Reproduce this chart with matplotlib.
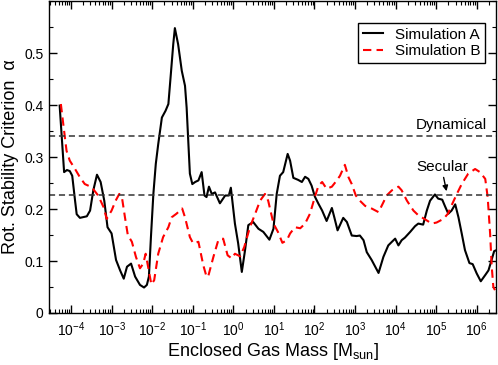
import numpy as np
import matplotlib
matplotlib.use('Agg')
import matplotlib.pyplot as plt
from matplotlib.ticker import LogLocator, FixedLocator, MultipleLocator, LogFormatterSciNotation

plt.rcParams['font.family'] = ['Liberation Sans', 'DejaVu Sans']
plt.rcParams['mathtext.default'] = 'regular'

# Simulation A: log10(enclosed gas mass / Msun) and alpha
logm_a = [-4.28, -4.17, -4.10, -4.03, -3.97, -3.90, -3.86, -3.78, -3.61, -3.53,
          -3.45, -3.36, -3.27, -3.18, -3.10, -3.00, -2.89, -2.79, -2.70, -2.62,
          -2.52, -2.42, -2.30, -2.20, -2.13, -2.08, -2.03, -1.97, -1.91, -1.85,
          -1.76, -1.67, -1.60, -1.54, -1.48, -1.44, -1.36, -1.27, -1.19, -1.15,
          -1.11, -1.07, -1.01, -0.94, -0.86, -0.78, -0.71, -0.66, -0.60, -0.53,
          -0.45, -0.33, -0.20, -0.11, -0.06, 0.04, 0.12, 0.21, 0.29, 0.37,
          0.49, 0.62, 0.74, 0.89, 0.99, 1.07, 1.15, 1.23, 1.34, 1.40,
          1.48, 1.60, 1.69, 1.77, 1.85, 1.93, 2.01, 2.10, 2.19, 2.30,
          2.43, 2.49, 2.57, 2.71, 2.80, 2.92, 3.04, 3.12, 3.21, 3.29,
          3.41, 3.58, 3.70, 3.82, 3.91, 3.99, 4.07, 4.15, 4.23, 4.36,
          4.48, 4.56, 4.68, 4.77, 4.85, 4.97, 5.05, 5.15, 5.22, 5.30,
          5.38, 5.47, 5.55, 5.63, 5.71, 5.82, 5.90, 6.00, 6.10, 6.21,
          6.29, 6.37, 6.43, 6.46]
alpha_a = [0.399, 0.271, 0.275, 0.273, 0.264, 0.216, 0.190, 0.183, 0.186, 0.197,
           0.236, 0.266, 0.252, 0.216, 0.165, 0.153, 0.102, 0.082, 0.066, 0.089,
           0.095, 0.070, 0.054, 0.049, 0.054, 0.070, 0.146, 0.229, 0.287, 0.325,
           0.376, 0.389, 0.402, 0.459, 0.517, 0.548, 0.517, 0.466, 0.437, 0.395,
           0.331, 0.268, 0.248, 0.252, 0.255, 0.271, 0.226, 0.223, 0.243, 0.229,
           0.232, 0.211, 0.226, 0.226, 0.241, 0.172, 0.134, 0.079, 0.121, 0.169,
           0.175, 0.162, 0.156, 0.141, 0.162, 0.229, 0.264, 0.271, 0.306, 0.293,
           0.260, 0.256, 0.252, 0.262, 0.258, 0.245, 0.224, 0.210, 0.197, 0.177,
           0.202, 0.184, 0.159, 0.183, 0.175, 0.149, 0.148, 0.149, 0.140, 0.117,
           0.102, 0.077, 0.108, 0.130, 0.137, 0.143, 0.130, 0.140, 0.145, 0.156,
           0.167, 0.172, 0.170, 0.197, 0.216, 0.228, 0.220, 0.218, 0.205, 0.191,
           0.197, 0.209, 0.184, 0.153, 0.121, 0.096, 0.094, 0.076, 0.061, 0.073,
           0.082, 0.103, 0.119, 0.120]

# Simulation B
logm_b = [-4.25, -4.19, -4.11, -4.03, -3.90, -3.78, -3.66, -3.49, -3.33, -3.20,
          -3.12, -3.00, -2.90, -2.81, -2.74, -2.67, -2.60, -2.50, -2.40, -2.30,
          -2.22, -2.16, -2.10, -2.02, -1.95, -1.85, -1.73, -1.60, -1.52, -1.40,
          -1.26, -1.19, -1.07, -0.99, -0.86, -0.74, -0.66, -0.62, -0.49, -0.37,
          -0.25, -0.14, -0.04, 0.04, 0.17, 0.27, 0.41, 0.54, 0.66, 0.78,
          0.86, 0.99, 1.10, 1.21, 1.32, 1.40, 1.52, 1.65, 1.77, 1.89,
          2.01, 2.10, 2.19, 2.30, 2.43, 2.55, 2.63, 2.75, 2.84, 2.92,
          3.02, 3.12, 3.25, 3.41, 3.58, 3.70, 3.78, 3.91, 4.07, 4.15,
          4.28, 4.44, 4.56, 4.73, 4.89, 5.01, 5.18, 5.29, 5.38, 5.51,
          5.63, 5.79, 5.96, 6.08, 6.21, 6.27, 6.33, 6.37, 6.41, 6.45]
alpha_b = [0.402, 0.363, 0.312, 0.293, 0.277, 0.261, 0.248, 0.242, 0.226, 0.204,
           0.181, 0.197, 0.216, 0.229, 0.220, 0.184, 0.150, 0.137, 0.108, 0.086,
           0.095, 0.114, 0.089, 0.055, 0.063, 0.114, 0.146, 0.165, 0.184, 0.191,
           0.201, 0.184, 0.146, 0.134, 0.137, 0.092, 0.070, 0.070, 0.108, 0.140,
           0.143, 0.111, 0.105, 0.114, 0.109, 0.127, 0.165, 0.191, 0.216, 0.229,
           0.216, 0.172, 0.156, 0.135, 0.140, 0.153, 0.165, 0.163, 0.172, 0.191,
           0.223, 0.245, 0.252, 0.239, 0.243, 0.255, 0.264, 0.285, 0.261, 0.248,
           0.226, 0.216, 0.206, 0.201, 0.194, 0.213, 0.226, 0.236, 0.243, 0.236,
           0.216, 0.197, 0.188, 0.180, 0.172, 0.174, 0.181, 0.191, 0.207, 0.229,
           0.248, 0.268, 0.277, 0.271, 0.258, 0.223, 0.153, 0.089, 0.050, 0.044]

alpha_dynamical = 0.34
alpha_secular = 0.227
ytick_vals = [0, 0.1, 0.2, 0.3, 0.4, 0.5]
ytick_labels = ['0', '0.1', '0.2', '0.3', '0.4', '0.5']
xdecades = list(range(-4, 7))

mass_a = 10.0 ** np.array(logm_a)
mass_b = 10.0 ** np.array(logm_b)

fig = plt.figure(figsize=(4.98, 3.65), dpi=100)
ax = fig.add_axes([0.099, 0.1425, 0.8964, 0.8545])

ax.plot(mass_a, alpha_a, color='black', lw=1.5, label='Simulation A')
ax.plot(mass_b, alpha_b, color='red', lw=1.5, dashes=(4, 2.5), label='Simulation B')

ax.axhline(alpha_dynamical, color='#333333', lw=1.1, dashes=(4, 2.5))
ax.axhline(alpha_secular, color='#333333', lw=1.1, dashes=(4, 2.5))

ax.set_xscale('log')
ax.set_xlim(10 ** -4.535, 10 ** 6.468)
ax.set_ylim(0, 0.6)

ax.xaxis.set_major_locator(FixedLocator([10.0 ** d for d in xdecades]))
ax.xaxis.set_major_formatter(LogFormatterSciNotation())
ax.xaxis.set_minor_locator(LogLocator(base=10, subs=np.arange(2, 10), numticks=30))
ax.yaxis.set_major_locator(FixedLocator(ytick_vals))
ax.set_yticklabels(ytick_labels)
ax.yaxis.set_minor_locator(MultipleLocator(0.05))

ax.tick_params(which='both', direction='in', top=True, right=True, labelsize=10)
ax.tick_params(which='major', length=6, width=1)
ax.tick_params(which='minor', length=3, width=0.8)
ax.tick_params(axis='x', pad=5)
ax.tick_params(axis='y', pad=4)
for sp in ax.spines.values():
    sp.set_linewidth(1)

ax.set_xlabel('Enclosed Gas Mass [M$_{sun}$]', fontsize=13, labelpad=2)
ax.set_ylabel('Rot. Stability Criterion  α', fontsize=13, labelpad=4)

ax.text(10 ** 5.37, 0.362, 'Dynamical', fontsize=11, ha='center', va='center')
ax.text(10 ** 5.14, 0.280, 'Secular', fontsize=11, ha='center', va='center')
ax.annotate('', xy=(10 ** 5.27, 0.229), xytext=(10 ** 5.17, 0.266),
            arrowprops=dict(arrowstyle='-|>', color='black', lw=1, mutation_scale=8))

leg = ax.legend(loc='upper right', bbox_to_anchor=(0.976, 0.929), borderaxespad=0,
                fontsize=11, handlelength=1.3, fancybox=False, framealpha=1,
                borderpad=0.3, labelspacing=0.15, handletextpad=0.8)
leg.get_frame().set_edgecolor('black')
leg.get_frame().set_linewidth(1)

plt.savefig('out.png', dpi=100)
